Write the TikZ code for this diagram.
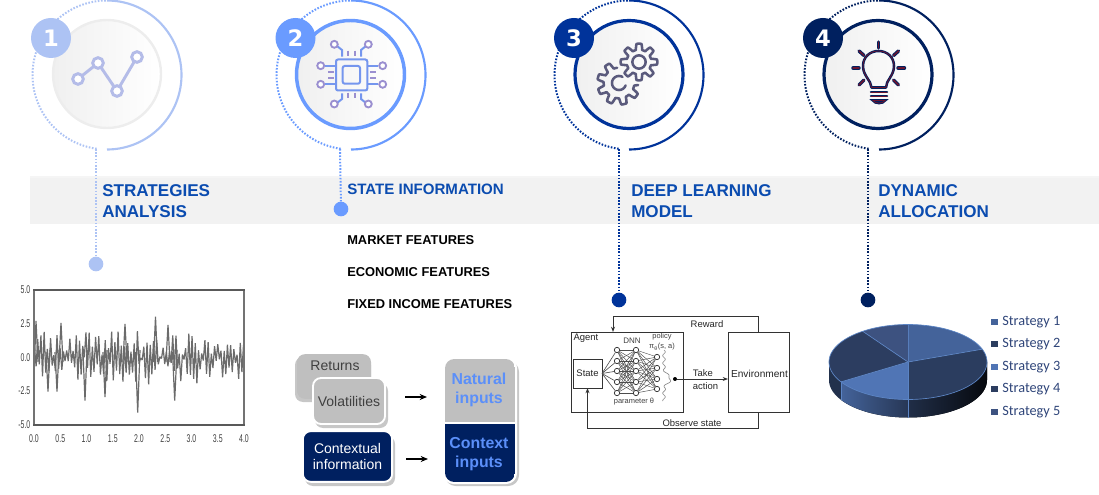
\documentclass[tikz,border=0pt]{standalone}
\usepackage{fontspec}
\setmainfont{Liberation Sans}
\newfontfamily\carlito{Carlito}
\newfontfamily\djv{DejaVu Sans}
\usetikzlibrary{arrows.meta}
\definecolor{cA}{HTML}{ADC3F4}
\definecolor{cB}{HTML}{6A9BFF}
\definecolor{cC}{HTML}{00339A}
\definecolor{cD}{HTML}{00205F}
\definecolor{bandc}{HTML}{F2F2F2}
\definecolor{headc}{HTML}{0B4CB0}
\definecolor{boxgray}{HTML}{BFBFBF}
\definecolor{navy}{HTML}{002060}
\definecolor{inblue}{HTML}{5B8FF9}
\definecolor{gearc}{HTML}{5A5A7C}
\definecolor{bulbr}{HTML}{6B1530}
\definecolor{chipc}{HTML}{7596EE}
\definecolor{chipp}{HTML}{9A8FD0}
\definecolor{lineA}{HTML}{B4BCE8}
\definecolor{pieA}{HTML}{44639A}
\definecolor{pieB}{HTML}{2B3D5F}
\definecolor{pieC}{HTML}{5075B5}
\definecolor{pieD}{HTML}{2C3D60}
\definecolor{pieE}{HTML}{3D5280}
\definecolor{pieedge}{HTML}{5B84C4}
\definecolor{legc}{HTML}{2F4579}
\newcommand{\fsz}[1]{\fontsize{#1pt}{#1pt}\selectfont}
\tikzset{
 heading/.style={anchor=west,inner sep=0pt,text=headc,font=\fsz{12.8}\bfseries},
 feature/.style={anchor=west,inner sep=0pt,text=black,font=\fsz{9.65}\bfseries},
 badge/.style={circle,inner sep=0pt,minimum size=30pt,text=white,font=\djv\fsz{17}\bfseries},
 enddot/.style={circle,inner sep=0pt,minimum size=11pt},
 dotline/.style={line width=1.5pt,dash pattern=on 1.2pt off 1.2pt},
 solidring/.style={line width=1.6pt},
 rim/.style={circle,inner sep=0pt,minimum size=81pt,left color=black!6,right color=white},
 tick/.style={inner sep=0pt,font=\fsz{8.4},text=black!75,xscale=.62},
 plain/.style={inner sep=0pt,text=black!85,font=\fsz{7.1}},
 small/.style={inner sep=0pt,text=black!75,font=\fsz{5.6}},
 nn/.style={circle,draw=black!85,line width=.5pt,fill=white,inner sep=0pt,minimum size=4pt},
 nnl/.style={draw=black!70,line width=.35pt},
 panel/.style={draw=black!80,line width=.7pt,fill=white,inner sep=0pt,outer sep=0pt},
 flow/.style={draw=black!80,line width=.7pt,-{Stealth[length=4pt,width=3pt]}},
 bigarrow/.style={draw=black,line width=1.1pt,-{Stealth[length=5.5pt,width=4.5pt]}},
 legendbox/.style={anchor=west,inner sep=0pt,text=legc,font=\carlito\fsz{10.7}},
 chipline/.style={draw=chipc,line width=1.5pt},
 chiptick/.style={draw=chipp,line width=1.5pt},
 chipdot/.style={draw=chipp,line width=1.4pt,fill=white},
 raystyle/.style={draw=cD,line width=2.6pt,line cap=round},
 rayin/.style={draw=bulbr,line width=1.1pt,line cap=round},
 inlabel/.style={inner sep=0pt,align=center,font=\fsz{11.9}\bfseries,text=inblue},
 boxlabel/.style={inner sep=0pt,align=center,font=\fsz{10.5}},
 softshadow/.style={fill=black,opacity=.22},
 serie/.style={draw=black!58,line width=.9pt,line join=bevel},
}
\newcommand{\ringset}[5]{% cx, color, badge x, number, name
  \draw[dotline,#2] plot[domain=98:270,samples=70] ({#1+74.5*cos(\x)},{75+74.5*sin(\x)});
  \draw[solidring,#2] plot[domain=-90:90,samples=70] ({#1+74.5*cos(\x)},{75+74.5*sin(\x)});
  \node[badge,fill=#2] (#5) at (#3,38) {#4};
}
\newcommand{\piesec}[3]{\fill[#3] (908,362) -- plot[domain=#1:#2,samples=40] ({908+79*cos(\x)},{362+37.5*sin(\x)}) -- cycle;
  \draw[pieedge,line width=.5pt] (908,362) -- ({908+79*cos(#1)},{362+37.5*sin(#1)});}
\newcommand{\piewall}[3]{\fill[#3] plot[domain=#1:#2,samples=30] ({908+79*cos(\x)},{362+37.5*sin(\x)}) -- plot[domain=#2:#1,samples=30] ({908+79*cos(\x)},{380+37.5*sin(\x)}) -- cycle;}
\begin{document}
\begin{tikzpicture}[x=.75pt,y=-.75pt]
\useasboundingbox (0,0) rectangle (1099,495);
% band
\fill[black!4] (30,176.5) rectangle (1099,178);
\fill[bandc] (30,178) rectangle (1099,224);

% rings
\node[rim,draw=black!7,line width=1.8pt] (diskA) at (107,74) {};
\ringset{107}{cA}{51}{1}{badgeA}
\node[rim,draw=cB,line width=2.6pt] (diskB) at (350.5,74.5) {};
\ringset{351}{cB}{295.5}{2}{badgeB}
\node[rim,draw=cC,line width=2.4pt] (diskC) at (629,74.5) {};
\ringset{629}{cC}{574}{3}{badgeC}
\node[rim,draw=cD,line width=2.4pt] (diskD) at (878,74.5) {};
\ringset{879}{cD}{823}{4}{badgeD}

% drop lines
\coordinate (dropA) at (96,149);
\coordinate (dropB) at (340,149);
\coordinate (dropC) at (619,149);
\coordinate (dropD) at (868,149);
\node[enddot,fill=cA] (dotA) at (96,264) {};
\node[enddot,fill=cB] (dotB) at (341,209) {};
\node[enddot,fill=cC] (dotC) at (619,300) {};
\node[enddot,fill=cD] (dotD) at (868,300) {};
\draw[dotline,cA] (dropA) -- (dotA);
\draw[dotline,cB] (dropB) -- (dotB);
\draw[dotline,cC] (dropC) -- (dotC);
\draw[dotline,cD] (dropD) -- (dotD);

% headings
\node[heading] (hA1) at (102,191) {STRATEGIES};
\node[heading] (hA2) at (102,211.5) {ANALYSIS};
\node[heading,font=\fsz{11.3}\bfseries] (hB) at (347,189.5) {STATE INFORMATION};
\node[heading] (hC1) at (631,191) {DEEP LEARNING};
\node[heading] (hC2) at (631,211.5) {MODEL};
\node[heading] (hD1) at (878,191) {DYNAMIC};
\node[heading] (hD2) at (878,211.5) {ALLOCATION};
\node[feature] (f1) at (347,240) {MARKET FEATURES};
\node[feature] (f2) at (347,272.5) {ECONOMIC FEATURES};
\node[feature] (f3) at (347,304.5) {FIXED INCOME FEATURES};

% icon 1
\draw[lineA,line width=2.2pt] (78,79) -- (98,63) -- (117,91) -- (137,57);
\foreach \px/\py in {78/79,98/63,117/91,137/57}
  \draw[lineA,line width=2.2pt,fill=white] (\px,\py) circle[radius=4pt];

% icon 2 chip
\draw[chipline,rounded corners=1.5pt] (336,59.5) rectangle (367.3,90.5);
\draw[chipline,rounded corners=1.5pt] (342.7,66) rectangle (360,83.7);
\foreach \a/\b/\c/\d in {336/65.7/325/65.7,336/84.3/325/84.3,367.3/65.7/378.3/65.7,367.3/84.3/378.3/84.3}
  \draw[chipline] (\a,\b) -- (\c,\d);
\foreach \a/\b/\c/\d/\e/\f in {342/56.7/342/50/337/46,361/56.7/361/50/366/46,342/93.3/342/99/337/103,361/93.3/361/99/366/103}
  \draw[chipline] (\a,\b) -- (\c,\d) -- (\e,\f);
\foreach \a/\b/\c/\d in {348.3/50.7/348.3/56,354.7/50.7/354.7/56,348.3/92.7/348.3/98.3,354.7/92.7/354.7/98.3,328.3/71.7/334/71.7,328.3/78/334/78,370/71.7/375.7/71.7,370/78/375.7/78}
  \draw[chiptick] (\a,\b) -- (\c,\d);
\foreach \a/\b in {320.7/65.7,320.7/84.3,382.7/65.7,382.7/84.3,334.3/44.3,368.3/44.3,334.3/104,368.3/104}
  \draw[chipdot] (\a,\b) circle[radius=2.6pt];

% icon 3 gears
\draw[gearc,line width=1.9pt,line join=round] plot[domain=0:360,samples=241] ({639+(15.3+3*min(1,max(-1,2.2*cos(8*\x))))*cos(\x)},{62+(15.3+3*min(1,max(-1,2.2*cos(8*\x))))*sin(\x)}) -- cycle;
\draw[gearc,line width=1.9pt] (639,62) circle[radius=5pt];
\draw[gearc,line width=1.9pt,line join=round,line cap=round] plot[domain=-97:-354,samples=181] ({619+(18.5+3.2*min(1,max(-1,2.2*cos(9*\x+30))))*cos(\x)},{83+(18.5+3.2*min(1,max(-1,2.2*cos(9*\x+30))))*sin(\x)});
\draw[gearc,line width=1.9pt,line cap=round] plot[domain=-60:-340,samples=50] ({619+7*cos(\x)},{83+7*sin(\x)});

% icon 4 bulb
\foreach \a/\b/\c/\d in {878.3/42/878.3/48,859/51/864/55.5,898.5/51/893.5/55.5,853/68/859/68,898/68/904.5/68,859/85/864/80,898.5/85/893.5/80}{
  \draw[raystyle] (\a,\b) -- (\c,\d);
  \draw[rayin] (\a,\b) -- (\c,\d);
}
\foreach \s/\w in {cD/1.9pt,bulbr/.6pt}{
  \draw[draw=\s,line width=\w,line join=round] (871.5,87.5) -- (886,87.5) .. controls (886,80) and (894,76) .. (894,66) .. controls (894,57) and (887,51) .. (878.5,51) .. controls (870,51) and (863,57) .. (863,66) .. controls (863,76) and (871,80) .. (871.5,87.5) -- cycle;
  \draw[draw=\s,line width=\w,line cap=round] (871,92) -- (887,92);
  \draw[draw=\s,line width=\w,line cap=round] (871,96) -- (887,96);
  \draw[draw=\s,line width=\w,line cap=round] (873,100.5) .. controls (875,104) and (883,104) .. (885,100.5) -- cycle;
}

% chart
\pgfmathsetseed{11}
\draw[serie] plot[domain=0:130,samples=131] ({34.5+\x/130*209},{357.5-13.5*((1-2*mod(round(\x),2))*(0.2+1.7*rnd)+0.3*rand)});
\foreach \a/\b/\c in {83/85/87,103/105/107,135.5/137.7/140,172.5/174.7/177,46/48/50,55/57/59}{
  \pgfmathsetmacro{\dep}{\b==85 ? 400.7 : (\b==105 ? 397 : (\b==137.7 ? 412.7 : (\b==174.7 ? 400.7 : 391.5)))}
  \draw[serie] (\a,352) -- (\b,\dep) -- (\c,350);
}
\foreach \a/\b/\c/\t in {153.5/155.5/157.5/316.7,59/61/63/323,123/125/127/324,166/168/170/325,34.5/36/38/321}
  \draw[serie] (\a,362) -- (\b,\t) -- (\c,362);
\draw[black!55,line width=.8pt] (34,425) -- (34,290);
\draw[black!55,line width=.8pt] (244,425) -- (244,290);
\draw[black!65,line width=1pt] (33,290) -- (245,290);
\draw[black!65,line width=1pt] (33,425) -- (245,425);
\foreach \lab/\yy in {5.0/290,2.5/323.8,0.0/357.5,-2.5/391,-5.0/425}
  \node[tick,anchor=east] (yl\yy) at (30.5,\yy) {\lab};
\foreach \lab/\xx in {0.0/34,0.5/60.3,1.0/86.5,1.5/112.8,2.0/139,2.5/165.3,3.0/191.5,3.5/217.8,4.0/244}
  \node[tick] (xl\xx) at (\xx,439) {\lab};

% input boxes
\fill[softshadow,rounded corners=6pt] (295,357) rectangle (371,402);
\node[fill=boxgray,rounded corners=6pt,minimum width=55.5pt,minimum height=33.5pt,inner sep=0pt] (retbox) at (334,376.5) {};
\node[boxlabel,text=black!75] (returns) at (335,366) {Returns};
\fill[softshadow,rounded corners=6pt] (315,383) rectangle (388,428);
\node[fill=boxgray,draw=white,line width=1.4pt,rounded corners=6pt,minimum width=54pt,minimum height=34.5pt,inner sep=0pt,boxlabel,text=black!75] (vol) at (349,401) {Volatilities};
\fill[softshadow,rounded corners=6pt] (305,436) rectangle (395,486);
\node[fill=navy,draw=white,line width=1.4pt,rounded corners=6pt,minimum width=67pt,minimum height=38pt,inner sep=0pt,boxlabel,text=white] (ctx) at (347.5,456.5) {Contextual\\[2.2pt]information};
% stacked inputs
\fill[softshadow,rounded corners=8pt] (445,361) rectangle (519,486);
\fill[white,rounded corners=8pt] (443,357) rectangle (517,484);
\begin{scope}
\clip[rounded corners=7pt] (445,359) rectangle (515,482);
\fill[boxgray] (445,359) rectangle (515,422);
\fill[navy] (445,424) rectangle (515,482);
\end{scope}
\node[inlabel] (natural) at (479,389.5) {Natural\\[2.3pt]inputs};
\node[inlabel] (context) at (479,454.5) {Context\\[2.3pt]inputs};
\coordinate (arrowA) at (405,397);
\coordinate (arrowAend) at (427,397);
\coordinate (arrowB) at (406,459);
\coordinate (arrowBend) at (428,459);
\draw[bigarrow] (arrowA) -- (arrowAend);
\draw[bigarrow] (arrowB) -- (arrowBend);

% agent diagram
\node[panel,minimum width=84pt,minimum height=60pt] (agent) at (627,372) {};
\node[panel,minimum width=45.75pt,minimum height=60pt] (env) at (758.5,372) {};
\node[panel,minimum width=21.75pt,minimum height=21.75pt,font=\fsz{7.1},text=black!85] (state) at (587.5,373.5) {State};
\node[plain,font=\fsz{7.6}] (envlab) at (759.5,374) {Environment};
\coordinate (rwcorner) at (613,316);
\coordinate (agentIn) at (613,332);
\coordinate (obcorner) at (587.5,428);
\draw[flow] (env.north) |- (rwcorner) -- (agentIn);
\draw[flow] (env.south) |- (obcorner) -- (state.south);
\node[plain] (reward) at (707,324) {Reward};
\node[plain] (agentlab) at (586,338) {Agent};
\node[plain] (observe) at (692,423) {Observe state};
\node[plain,anchor=west] (take) at (692.7,373) {Take};
\node[plain,anchor=west] (action) at (692.7,386) {action};
\node[small,font=\fsz{6}] (dnn) at (632,341) {DNN};
\node[small] (policy) at (662,337) {policy};
\node[small] (pi) at (662,347) {π\textsubscript{θ}(s, a)};
\node[small] (param) at (634,402) {parameter θ};
\foreach \i/\yy in {1/350,2/361,3/371,4/382,5/393}{
  \node[nn] (p\i) at (617,\yy) {};
  \node[nn] (q\i) at (636,\yy) {};
  \draw[nnl,line width=.45pt] (state.east) -- (p\i);
}
\foreach \i/\yy in {1/357,2/368,3/379,4/389}
  \node[nn] (r\i) at (657,\yy) {};
\foreach \i in {1,...,5}{
  \foreach \j in {1,...,5}
    \draw[nnl] (p\i) -- (q\j);
  \foreach \j in {1,...,4}
    \draw[nnl] (q\i) -- (r\j);
}
\draw[black!45,line width=.5pt] plot[domain=350:401,samples=70] ({664+1.3*sin((\x-350)*48)+6.5*exp(-((\x-379)/5.5)^2)},{\x});
\node[circle,fill=black,inner sep=0pt,minimum size=3pt] (actdot) at (675,379) {};
\draw[flow] (actdot) -- (env.west |- actdot);

% pie
\piewall{148}{180}{fill=pieB!80!black}
\piewall{-0.1}{90}{left color=pieB!75!black,right color=black!85!pieB}
\piewall{90}{148}{right color=pieB!90!black,left color=pieA}
\draw[pieedge,line width=.5pt] (908,399.5) -- (908,417.5);
\draw[pieedge,line width=.5pt] ({908+79*cos(148)},{362+37.5*sin(148)}) -- ({908+79*cos(148)},{380+37.5*sin(148)});
\piesec{-90}{-20}{pieA}
\piesec{-20}{90}{pieB}
\piesec{90}{148}{pieC}
\piesec{148}{235}{pieD}
\piesec{235}{270}{pieE}
\draw[pieedge,line width=.5pt] plot[domain=0:360,samples=120] ({908+79*cos(\x)},{362+37.5*sin(\x)});
\foreach \n/\yy/\cc in {1/322/pieA,2/344/pieB,3/367/pieC,4/389/pieD,5/412/pieE}{
  \fill[\cc] (991,\yy-3.2) rectangle (997.5,\yy+3.2);
  \node[legendbox] (leg\n) at (1002,\yy) {Strategy \n};
}
\end{tikzpicture}
\end{document}
